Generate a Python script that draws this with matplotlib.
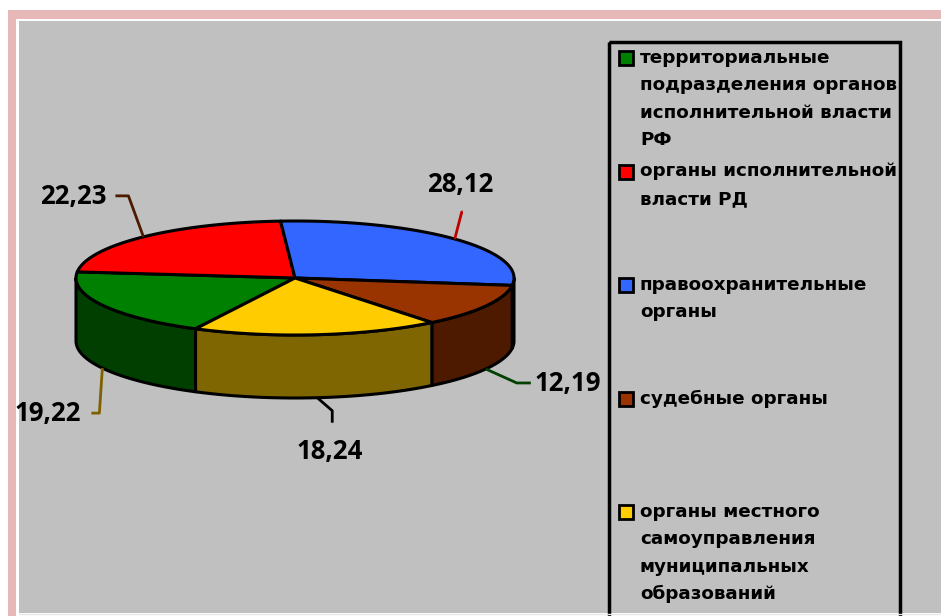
import numpy as np
import matplotlib.pyplot as plt
from matplotlib.patches import Polygon, Rectangle

# data: share of cases by body, %
categories = [
    "территориальные\nподразделения органов\nисполнительной власти\nРФ",
    "органы исполнительной\nвласти РД",
    "правоохранительные\nорганы",
    "судебные органы",
    "органы местного\nсамоуправления\nмуниципальных\nобразований",
]
values = [19.22, 22.23, 28.12, 12.19, 18.24]
value_labels = ["19,22", "22,23", "28,12", "12,19", "18,24"]

top_colors = ["#008000", "#ff0000", "#3366ff", "#993300", "#ffcc00"]
side_colors = ["#003f00", "#800000", "#1a3380", "#4d1a00", "#806600"]
leader_colors = ["#7f6000", "#4d1a00", "#c00000", "#004000", "#000000"]

# pie geometry in pixel coordinates
cx, cy = 295, 278
rx, ry = 219, 57
depth = 63
start_angle = 243.0  # degrees, slices go clockwise

fig = plt.figure(figsize=(9.41, 6.16), dpi=100)
fig.patch.set_facecolor("white")
ax = fig.add_axes([0, 0, 1, 1])
ax.set_xlim(0, 941)
ax.set_ylim(616, 0)
ax.axis("off")

# frame: pink band, thin white line, grey plot area
ax.add_patch(Rectangle((8, 10), 960, 640, facecolor="#e6b8b7", edgecolor="none"))
ax.add_patch(Rectangle((16, 19), 960, 640, facecolor="white", edgecolor="none"))
ax.add_patch(Rectangle((19, 21), 960, 592, facecolor="#c0c0c0", edgecolor="none"))
ax.plot([19, 941], [614, 614], color="#e8e8e8", lw=1)


def rim(theta_deg, dz=0.0):
    t = np.radians(theta_deg)
    return cx + rx * np.cos(t), cy - ry * np.sin(t) + dz


angles = [v / sum(values) * 360 for v in values]
bounds = []
a = start_angle
for span in angles:
    bounds.append((a - span, a))
    a -= span

# sides (only the front half, where sin < 0)
for (t1, t2), col in zip(bounds, side_colors):
    for k in (-360, 0, 360):
        s = max(t1 + k, -180)
        e = min(t2 + k, 0)
        if e <= s:
            continue
        th = np.linspace(s, e, 60)
        xs, ys = rim(th)
        xb, yb = rim(th[::-1], depth)
        pts = np.column_stack([np.concatenate([xs, xb]), np.concatenate([ys, yb])])
        ax.add_patch(Polygon(pts, closed=True, facecolor=col, edgecolor="black",
                             lw=2.2, joinstyle="round"))

# top faces
for (t1, t2), col in zip(bounds, top_colors):
    th = np.linspace(t1, t2, 120)
    xs, ys = rim(th)
    pts = np.column_stack([np.concatenate([[cx], xs]), np.concatenate([[cy], ys])])
    ax.add_patch(Polygon(pts, closed=True, facecolor=col, edgecolor="black",
                         lw=2.2, joinstyle="round"))

# value labels with leader lines: path offsets from rim anchor, text offset
leaders = [
    [(0, 0), (-3, 45), (-11, 45)],
    [(0, 0), (-15, -41), (-28, -41)],
    [(0, 0), (7, -27), (8, -27)],
    [(0, 0), (31, 14), (45, 14)],
    [(0, 0), (15, 13), (15, 25)],
]
text_offsets = [(-55, 45), (-70, -40), (5, -55), (82, 15), (12, 54)]

label_font = dict(fontfamily="Open Sans", fontweight="bold", fontsize=18.5)
for (t1, t2), lab, lc, path, (tx, ty) in zip(bounds, value_labels, leader_colors,
                                             leaders, text_offsets):
    mid = (t1 + t2) / 2
    front = np.sin(np.radians(mid)) < 0
    ax_, ay_ = rim(mid, depth if front else 0)
    px = [ax_ + p[0] for p in path]
    py = [ay_ + p[1] for p in path]
    ax.plot(px, py, color=lc, lw=2, solid_capstyle="butt")
    ax.text(ax_ + tx, ay_ + ty, lab, ha="center", va="center", color="black",
            **label_font)

# legend box
ax.add_patch(Rectangle((609.5, 42), 291, 600, facecolor="none", edgecolor="black", lw=2.5))
line_h = 27.3
for i, (name, col) in enumerate(zip(categories, top_colors)):
    y0 = 58 + i * 113.5
    ax.add_patch(Rectangle((619, y0 - 7), 14, 14, facecolor=col, edgecolor="black", lw=2))
    for j, line in enumerate(name.split("\n")):
        ax.text(640, y0 + j * line_h, line, ha="left", va="center",
                fontfamily="DejaVu Sans", fontweight="bold", fontsize=13.2,
                color="black")

fig.savefig("out.png", dpi=100)
